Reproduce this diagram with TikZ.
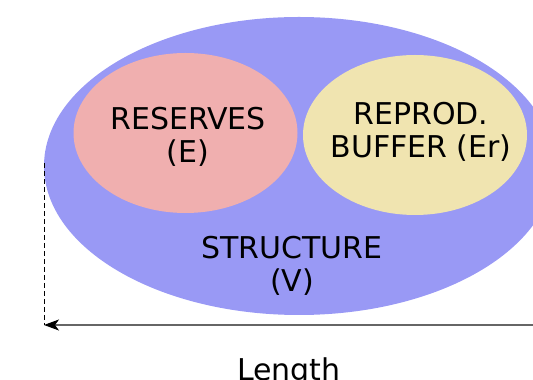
\documentclass[tikz,border=0pt]{standalone}
\usepackage{fontspec}
\setmainfont{DejaVu Sans}
\usepackage{xcolor}
\usetikzlibrary{shapes.geometric}
\usetikzlibrary{arrows.meta}
\usetikzlibrary{positioning}

\definecolor{structblue}{RGB}{153,153,245}
\definecolor{reservepink}{RGB}{240,175,175}
\definecolor{bufferyellow}{RGB}{240,228,176}

\begin{document}
\begin{tikzpicture}[x=1pt,y=1pt]
\tikzset{compartment/.style={ellipse,inner sep=0pt,minimum width=224pt,minimum height=160pt}}
\tikzset{bigtext/.style={align=center,font=\fontsize{30}{33}\selectfont}}
\useasboundingbox (0,0) rectangle (533,380);
\clip (0,0) rectangle (533,380);
\node[ellipse,fill=structblue,minimum width=510pt,minimum height=298pt,inner sep=0pt](structure) at (299,214){};
\node[compartment,fill=reservepink](reserves) at (185.5,247){};
\node[compartment,fill=bufferyellow](buffer) at (415,245){};
\node[bigtext](reslabel) at (188,243){RESERVES\\(E)};
\node[bigtext](buflabel) at (421,248){REPROD.\\BUFFER (Er)};
\node[bigtext](structlabel) at (292,114){STRUCTURE\\(V)};
\coordinate (dashtop) at (44,217);
\coordinate (lenstart) at (44,55);
\coordinate (lenend) at (545,55);
\draw[dash pattern=on 5pt off 3pt,line width=1pt](dashtop) -- (lenstart);
\draw[draw=black!60,line width=1.2pt,{Stealth[length=15pt,width=11pt,inset=4pt,black]}-](lenstart) -- (lenend);
\node[anchor=base,font=\fontsize{30}{33}\selectfont](length) at (289,-1){Length};
\end{tikzpicture}
\end{document}
